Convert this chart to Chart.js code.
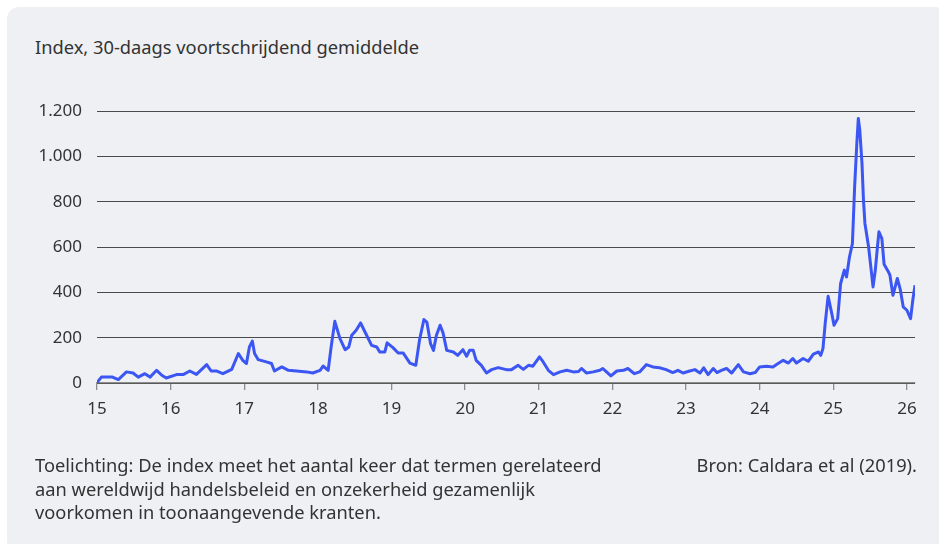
<!DOCTYPE html>
<html>
<head>
<meta charset="utf-8">
<script src="https://cdn.jsdelivr.net/npm/chart.js@4.4.1/dist/chart.umd.min.js"></script>
<style>
  html, body { margin: 0; padding: 0; background: #fff; }
  body { width: 939px; height: 544px; position: relative; overflow: hidden; font-family: "Noto Sans", sans-serif; color: #333; }
  .panel { position: absolute; left: 7px; top: 7px; width: 940px; height: 545px; background: #eff0f4; border-radius: 12px; }
  .title { position: absolute; left: 35px; top: 34px; font-size: 18.3px; }
  .note { position: absolute; left: 35px; top: 453px; font-size: 18.3px; line-height: 23.5px; }
  .source { position: absolute; right: 22px; top: 453px; font-size: 18.3px; line-height: 23.5px; }
  canvas { position: absolute; left: 0; top: 0; }
</style>
</head>
<body>
<div class="panel"></div>
<div class="title">Index, 30-daags voortschrijdend gemiddelde</div>
<canvas id="tpu" width="939" height="544"></canvas>
<div class="note">Toelichting: De index meet het aantal keer dat termen gerelateerd<br>aan wereldwijd handelsbeleid en onzekerheid gezamenlijk<br>voorkomen in toonaangevende kranten.</div>
<div class="source">Bron: Caldara et al (2019).</div>
<script>
// jaar (15 = 2015) en indexwaarde
var years = [
  15.00, 15.06, 15.21, 15.29, 15.40, 15.49, 15.56, 15.65, 15.72, 15.81, 15.88, 15.94,
  16.08, 16.17, 16.26, 16.35, 16.49, 16.55, 16.62, 16.71, 16.83, 16.92, 16.98,
  17.03, 17.07, 17.11, 17.14, 17.19, 17.30, 17.37, 17.41, 17.51, 17.60, 17.71, 17.85, 17.93,
  18.03, 18.07, 18.14, 18.18, 18.23, 18.30, 18.37, 18.42, 18.46, 18.52, 18.58, 18.64, 18.73, 18.80, 18.84, 18.91, 18.94,
  19.02, 19.09, 19.16, 19.25, 19.33, 19.38, 19.44, 19.48, 19.53, 19.57, 19.61, 19.66, 19.70, 19.75, 19.84, 19.90, 19.97,
  20.02, 20.06, 20.11, 20.15, 20.22, 20.29, 20.36, 20.45, 20.56, 20.63, 20.72, 20.79, 20.86, 20.92,
  21.01, 21.06, 21.13, 21.20, 21.29, 21.38, 21.47, 21.54, 21.58, 21.65, 21.74, 21.83, 21.87, 21.92, 21.98,
  22.06, 22.15, 22.21, 22.30, 22.37, 22.46, 22.55, 22.64, 22.73, 22.82, 22.89, 22.96,
  23.05, 23.12, 23.19, 23.24, 23.30, 23.37, 23.42, 23.48, 23.55, 23.62, 23.71, 23.78, 23.87, 23.94,
  24.00, 24.09, 24.18, 24.25, 24.32, 24.39, 24.45, 24.50, 24.59, 24.66, 24.73, 24.80, 24.83, 24.86, 24.89, 24.93, 24.98,
  25.01, 25.06, 25.10, 25.15, 25.18, 25.22, 25.26, 25.29, 25.32, 25.34, 25.36, 25.39, 25.41, 25.43, 25.48, 25.51, 25.54,
  25.57, 25.60, 25.62, 25.66, 25.69, 25.75, 25.77, 25.81, 25.87, 25.91, 25.95,
  26.00, 26.05, 26.08, 26.11
];
var index30d = [
  2, 26, 26, 15, 49, 44, 26, 41, 26, 56, 34, 22,
  37, 37, 53, 38, 81, 53, 53, 41, 60, 130, 100,
  86, 159, 185, 130, 103, 93, 86, 53, 71, 56, 53, 49, 44,
  56, 75, 56, 159, 272, 196, 147, 159, 211, 233, 265, 225, 166, 159, 137, 137, 177,
  156, 132, 132, 88, 78, 189, 280, 269, 174, 144, 211, 255, 221, 144, 137, 122, 147,
  118, 144, 144, 100, 78, 44, 59, 68, 59, 59, 78, 60, 78, 74,
  115, 93, 56, 37, 49, 56, 49, 51, 64, 44, 49, 56, 64, 49, 31,
  53, 56, 64, 41, 49, 81, 71, 67, 59, 46, 56, 44,
  53, 59, 44, 67, 37, 64, 46, 56, 64, 44, 81, 49, 41, 46,
  71, 74, 71, 86, 100, 88, 108, 88, 108, 96, 127, 137, 122, 152, 262, 383, 306,
  255, 284, 439, 498, 468, 556, 615, 865, 1057, 1167, 1116, 969, 807, 704, 600, 512, 424,
  495, 600, 667, 637, 524, 490, 475, 387, 461, 413, 336,
  321, 284, 365, 431
];
var xTicks = [15, 16, 17, 18, 19, 20, 21, 22, 23, 24, 25, 26];
var yTicks = [0, 200, 400, 600, 800, 1000, 1200];

var points = years.map(function (x, i) { return { x: x, y: index30d[i] }; });

Chart.defaults.font.family = '"Noto Sans", sans-serif';
Chart.defaults.font.size = 17;
Chart.defaults.color = '#333';

new Chart(document.getElementById('tpu'), {
  type: 'line',
  data: {
    datasets: [{
      data: points,
      borderColor: '#3b56f2',
      borderWidth: 3,
      borderJoinStyle: 'round',
      pointRadius: 0,
      tension: 0,
      fill: false
    }]
  },
  options: {
    responsive: false,
    animation: false,
    layout: { padding: { left: 0, top: 111, right: 24, bottom: 0 } },
    plugins: { legend: { display: false }, tooltip: { enabled: false } },
    scales: {
      x: {
        type: 'linear',
        min: 15,
        max: 26.11,
        afterFit: function (s) { s.height = 161; },
        afterBuildTicks: function (s) { s.ticks = xTicks.map(function (v) { return { value: v }; }); },
        ticks: { padding: 9, includeBounds: false, callback: function (v) { return String(v); } },
        grid: { drawOnChartArea: false, drawTicks: true, tickLength: 7, color: '#8c8c8c', lineWidth: 1.3 },
        border: { display: true, color: '#8c8c8c', width: 1.3 }
      },
      y: {
        min: 0,
        max: 1200,
        afterFit: function (s) { s.width = 97; },
        afterBuildTicks: function (s) { s.ticks = yTicks.map(function (v) { return { value: v }; }); },
        ticks: {
          padding: 15,
          callback: function (v) { return String(v).replace(/\B(?=(\d{3})+(?!\d))/g, '.'); }
        },
        grid: { drawTicks: false, color: '#4a4a4a', lineWidth: 1 },
        border: { display: false }
      }
    }
  }
});
</script>
</body>
</html>
